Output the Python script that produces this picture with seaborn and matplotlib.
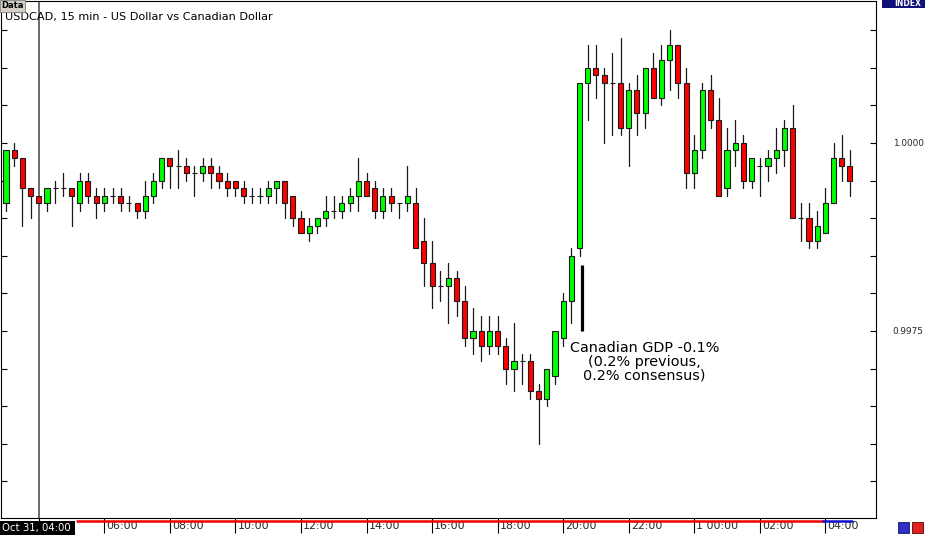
import numpy as np
import pandas as pd
import matplotlib
matplotlib.use("Agg")
import matplotlib.pyplot as plt
import matplotlib.transforms as mtransforms
from matplotlib.ticker import MultipleLocator, FormatStrFormatter
from matplotlib.lines import Line2D
from matplotlib.patches import Rectangle
import seaborn as sns

# USDCAD 15 min candles, 03:00 -> 04:45 next day
opens = [
    0.9992, 0.9999, 0.9998, 0.9994, 0.9993, 0.9992, 0.9994, 0.9994, 0.9994, 0.9992,
    0.9995, 0.9993, 0.9992, 0.9993, 0.9993, 0.9992, 0.9992, 0.9991, 0.9993, 0.9995,
    0.9998, 0.9997, 0.9997, 0.9996, 0.9996, 0.9997, 0.9996, 0.9995, 0.9995, 0.9994,
    0.9993, 0.9993, 0.9993, 0.9994, 0.9995, 0.9993, 0.9990, 0.9988, 0.9989, 0.9990,
    0.9991, 0.9991, 0.9992, 0.9993, 0.9995, 0.9994, 0.9991, 0.9993, 0.9992, 0.9992,
    0.9992, 0.9987, 0.9984, 0.9981, 0.9981, 0.9982, 0.9979, 0.9974, 0.9975, 0.9973,
    0.9975, 0.9973, 0.9970, 0.9971, 0.9971, 0.9967, 0.9966, 0.9969, 0.9974, 0.9979,
    0.9986, 1.0008, 1.0010, 1.0009, 1.0008, 1.0008, 1.0002, 1.0007, 1.0004, 1.0010,
    1.0006, 1.0011, 1.0013, 1.0008, 0.9996, 0.9999, 1.0007, 1.0003, 0.9994, 0.9999,
    1.0000, 0.9995, 0.9997, 0.9997, 0.9998, 0.9999, 1.0002, 0.9990, 0.9990, 0.9987,
    0.9988, 0.9992, 0.9998, 0.9997,
]
highs = [
    0.9999, 1.0000, 0.9998, 0.9994, 0.9993, 0.9994, 0.9995, 0.9996, 0.9994, 0.9996,
    0.9996, 0.9994, 0.9994, 0.9994, 0.9994, 0.9993, 0.9992, 0.9995, 0.9996, 0.9998,
    0.9998, 0.9999, 0.9998, 0.9997, 0.9998, 0.9998, 0.9997, 0.9996, 0.9995, 0.9995,
    0.9994, 0.9994, 0.9995, 0.9995, 0.9995, 0.9993, 0.9991, 0.9990, 0.9990, 0.9993,
    0.9993, 0.9993, 0.9994, 0.9998, 0.9996, 0.9995, 0.9994, 0.9994, 0.9992, 0.9997,
    0.9994, 0.9990, 0.9987, 0.9983, 0.9984, 0.9983, 0.9981, 0.9978, 0.9977, 0.9977,
    0.9977, 0.9974, 0.9976, 0.9972, 0.9972, 0.9968, 0.9970, 0.9975, 0.9980, 0.9986,
    1.0008, 1.0013, 1.0013, 1.0010, 1.0012, 1.0014, 1.0008, 1.0009, 1.0010, 1.0012,
    1.0013, 1.0015, 1.0013, 1.0010, 1.0001, 1.0008, 1.0009, 1.0006, 1.0002, 1.0003,
    1.0001, 0.9998, 0.9998, 0.9999, 1.0002, 1.0003, 1.0005, 0.9992, 0.9992, 0.9991,
    0.9994, 1.0000, 1.0001, 0.9999,
]
lows = [
    0.9991, 0.9997, 0.9989, 0.9990, 0.9992, 0.9991, 0.9992, 0.9993, 0.9989, 0.9991,
    0.9992, 0.9990, 0.9991, 0.9992, 0.9991, 0.9991, 0.9990, 0.9990, 0.9992, 0.9994,
    0.9994, 0.9994, 0.9995, 0.9993, 0.9995, 0.9994, 0.9994, 0.9993, 0.9993, 0.9992,
    0.9992, 0.9992, 0.9992, 0.9992, 0.9990, 0.9989, 0.9988, 0.9987, 0.9988, 0.9989,
    0.9990, 0.9990, 0.9991, 0.9991, 0.9993, 0.9990, 0.9990, 0.9991, 0.9990, 0.9991,
    0.9986, 0.9981, 0.9978, 0.9979, 0.9976, 0.9977, 0.9973, 0.9972, 0.9971, 0.9972,
    0.9972, 0.9968, 0.9967, 0.9968, 0.9966, 0.9960, 0.9965, 0.9968, 0.9973, 0.9976,
    0.9985, 1.0003, 1.0006, 1.0000, 1.0001, 1.0001, 0.9997, 1.0001, 1.0002, 1.0006,
    1.0005, 1.0007, 1.0006, 0.9994, 0.9994, 0.9998, 1.0002, 0.9993, 0.9993, 0.9997,
    0.9994, 0.9994, 0.9993, 0.9995, 0.9996, 0.9997, 0.9990, 0.9987, 0.9986, 0.9986,
    0.9988, 0.9992, 0.9995, 0.9993,
]
closes = [
    0.9999, 0.9998, 0.9994, 0.9993, 0.9992, 0.9994, 0.9994, 0.9994, 0.9993, 0.9995,
    0.9993, 0.9992, 0.9993, 0.9993, 0.9992, 0.9992, 0.9991, 0.9993, 0.9995, 0.9998,
    0.9997, 0.9997, 0.9996, 0.9996, 0.9997, 0.9996, 0.9995, 0.9994, 0.9994, 0.9993,
    0.9993, 0.9993, 0.9994, 0.9995, 0.9992, 0.9990, 0.9988, 0.9989, 0.9990, 0.9991,
    0.9991, 0.9992, 0.9993, 0.9995, 0.9993, 0.9991, 0.9993, 0.9992, 0.9992, 0.9993,
    0.9986, 0.9984, 0.9981, 0.9981, 0.9982, 0.9979, 0.9974, 0.9975, 0.9973, 0.9975,
    0.9973, 0.9970, 0.9971, 0.9971, 0.9967, 0.9966, 0.9970, 0.9975, 0.9979, 0.9985,
    1.0008, 1.0010, 1.0009, 1.0008, 1.0008, 1.0002, 1.0007, 1.0004, 1.0010, 1.0006,
    1.0011, 1.0013, 1.0008, 0.9996, 0.9999, 1.0007, 1.0003, 0.9993, 0.9999, 1.0000,
    0.9995, 0.9998, 0.9997, 0.9998, 0.9999, 1.0002, 0.9990, 0.9990, 0.9987, 0.9989,
    0.9992, 0.9998, 0.9997, 0.9995,
]

time_ticks = [4, 12, 20, 28, 36, 44, 52, 60, 68, 76, 84, 92, 100]
time_labels = ["04:00", "06:00", "08:00", "10:00", "12:00", "14:00", "16:00",
               "18:00", "20:00", "22:00", "1 00:00", "02:00", "04:00"]
cursor_idx = 4

note_text = "Canadian GDP -0.1%\n(0.2% previous,\n0.2% consensus)"
note_bar = (70.35, 0.9975, 0.99838)
note_pos = (77.9, 0.99737)

sns.set_theme(style="white")
plt.rcParams['font.family'] = ['DejaVu Sans']

W, H = 925, 535
fig = plt.figure(figsize=(W / 100, H / 100), dpi=100)
fig.patch.set_facecolor("white")
ax = fig.add_axes([1 / W, 17 / H, 875 / W, 517 / H])
ax.set_facecolor("white")

df = pd.DataFrame({"idx": np.arange(len(opens)), "open": opens, "high": highs,
                   "low": lows, "close": closes})

# wicks
wicks = df.melt(id_vars="idx", value_vars=["high", "low"], value_name="price")
sns.lineplot(data=wicks, x="idx", y="price", units="idx", estimator=None,
             color="#1a1a1a", lw=0.9, legend=False, ax=ax, zorder=1)

# bodies
up = df["close"] >= df["open"]
ax.bar(df["idx"], df["close"] - df["open"], bottom=df["open"], width=0.62,
       color=np.where(up, "#00ff00", "#ff0000"), edgecolor="#1a1a1a",
       linewidth=0.8, zorder=2)

ax.axvline(cursor_idx, color="#444444", lw=1.1, zorder=0)

ax.vlines(note_bar[0], note_bar[1], note_bar[2], color="black", lw=2.3, zorder=3)
ax.text(note_pos[0], note_pos[1], note_text, ha="center", va="top",
        multialignment="center", fontsize=10.4, linespacing=0.98, color="black")

ax.set_xlim(-0.61, 106.18)
ax.set_ylim(0.995013, 1.001888)
ax.set_xlabel("")
ax.set_ylabel("")

ax.yaxis.set_major_locator(MultipleLocator(0.0025))
ax.yaxis.set_minor_locator(MultipleLocator(0.0005))
ax.yaxis.set_major_formatter(FormatStrFormatter("%.4f"))
ax.tick_params(axis="y", which="both", direction="in", left=True, right=True,
               labelleft=False, labelright=True, length=4, width=0.8,
               color="black", labelsize=6.4, pad=12)

ax.set_xticks(time_ticks)
ax.set_xticklabels(time_labels, ha="left")
ax.tick_params(axis="x", direction="out", bottom=True, length=11, width=0.8,
               color="black", labelsize=7.9, pad=-8.5)
shift = mtransforms.ScaledTranslation(0.02, 0, fig.dpi_scale_trans)
for lbl in ax.get_xticklabels():
    lbl.set_transform(lbl.get_transform() + shift)

for s in ax.spines.values():
    s.set_color("black")
    s.set_linewidth(0.8)

# chart title
fig.text(5 / W, 1 - 17 / H, "USDCAD, 15 min - US Dollar vs Canadian Dollar",
         va="center", ha="left", fontsize=8.1, color="black")

# "Data" tab, top left
fig.text(1.5 / W, 1 - 1.5 / H, "Data", ha="left", va="top", fontsize=6,
         weight="bold", color="black",
         bbox=dict(boxstyle="square,pad=0.15", facecolor="#d4d0c8",
                   edgecolor="#808080", lw=0.6))

# "INDEX" tab, top right
fig.add_artist(Rectangle((882 / W, 1 - 8 / H), 43 / W, 8 / H,
                         transform=fig.transFigure, facecolor="#10107a",
                         edgecolor="none", zorder=5))
fig.text(921 / W, 1 - 4 / H, "INDEX", ha="right", va="center", fontsize=5.5,
         weight="bold", color="white", zorder=6)

# scroll bar under the frame
fig.add_artist(Line2D([77 / W, 823 / W], [1 - 520.5 / H] * 2, color="#ee0000",
                      lw=1.8, transform=fig.transFigure, zorder=5))
fig.add_artist(Line2D([823 / W, 852 / W], [1 - 520.5 / H] * 2, color="#1010cc",
                      lw=1.8, transform=fig.transFigure, zorder=5))

# cursor time box, bottom left
fig.add_artist(Rectangle((0, 0), 75 / W, 14 / H, transform=fig.transFigure,
                         facecolor="black", edgecolor="none", zorder=5))
fig.text(2 / W, 7 / H, "Oct 31, 04:00", ha="left", va="center", fontsize=7.3,
         color="white", zorder=6)

# tiny buttons, bottom right
fig.add_artist(Rectangle((898 / W, 2 / H), 11 / W, 11 / H, transform=fig.transFigure,
                         facecolor="#3030c8", edgecolor="#101060", lw=0.6, zorder=5))
fig.add_artist(Rectangle((912 / W, 2 / H), 11 / W, 11 / H, transform=fig.transFigure,
                         facecolor="#e02020", edgecolor="#600000", lw=0.6, zorder=5))

fig.savefig("out.png", dpi=100)
